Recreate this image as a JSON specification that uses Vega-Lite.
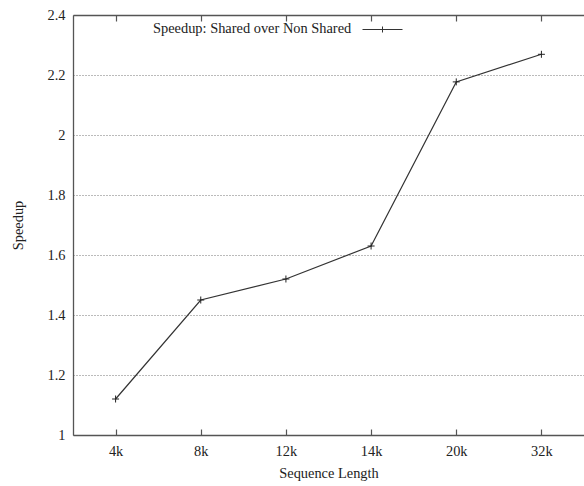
{
  "$schema": "https://vega.github.io/schema/vega-lite/v6.json",
  "width": 511,
  "height": 420,
  "autosize": {"type": "none"},
  "padding": {"left": 73, "top": 15, "right": 0, "bottom": 51},
  "background": "white",
  "config": {
    "view": {"stroke": null},
    "font": "Liberation Serif",
    "axis": {
      "labelFont": "Liberation Serif",
      "titleFont": "Liberation Serif",
      "labelFontSize": 14.4,
      "titleFontSize": 14.4,
      "titleFontWeight": "normal",
      "labelColor": "#222",
      "titleColor": "#222",
      "domainColor": "#555",
      "domainWidth": 1.3
    }
  },
  "data": {
    "values": [
      {"len": "4k", "speedup": 1.12, "series": "Speedup: Shared over Non Shared"},
      {"len": "8k", "speedup": 1.45, "series": "Speedup: Shared over Non Shared"},
      {"len": "12k", "speedup": 1.52, "series": "Speedup: Shared over Non Shared"},
      {"len": "14k", "speedup": 1.63, "series": "Speedup: Shared over Non Shared"},
      {"len": "20k", "speedup": 2.177, "series": "Speedup: Shared over Non Shared"},
      {"len": "32k", "speedup": 2.269, "series": "Speedup: Shared over Non Shared"}
    ]
  },
  "layer": [
    {
      "mark": {"type": "line", "strokeWidth": 1.2},
      "encoding": {
        "x": {
          "field": "len", "type": "ordinal", "sort": null,
          "scale": {"type": "point", "padding": 0.5},
          "axis": {"orient": "top", "labels": false, "title": null, "ticks": false, "grid": true, "gridDash": [6, 2000], "gridColor": "#555", "gridWidth": 1.2}
        },
        "y": {
          "field": "speedup", "type": "quantitative",
          "scale": {"domain": [1, 2.4], "nice": false, "zero": false},
          "axis": {
            "orient": "left",
            "values": [1, 1.2, 1.4, 1.6, 1.8, 2, 2.2, 2.4],
            "format": "~g",
            "ticks": false,
            "labelPadding": 8,
            "grid": true,
            "gridDash": [1, 2],
            "gridColor": "#777",
            "gridWidth": 1,
            "title": "Speedup",
            "titlePadding": 22
          }
        },
        "color": {
          "field": "series", "type": "nominal",
          "scale": {"range": ["#333"]},
          "legend": {
            "orient": "none",
            "legendX": 80,
            "legendY": -6,
            "title": "Speedup: Shared over Non Shared",
            "titleLimit": 500,
            "titleOrient": "left",
            "titleAnchor": "middle",
            "titleBaseline": "top",
            "titleFont": "Liberation Serif",
            "titleFontSize": 14.4,
            "titleFontWeight": "normal",
            "titleColor": "#222",
            "titlePadding": 10,
            "labelExpr": "''",
            "symbolType": "M-1,0H1M0,-0.15V0.15",
            "symbolSize": 1600,
            "symbolStrokeWidth": 1,
            "padding": 0
          }
        }
      }
    },
    {
      "mark": {"type": "point", "shape": "M-1,0H1M0,-1V1", "size": 49, "filled": false, "color": "#222", "strokeWidth": 1, "opacity": 1},
      "encoding": {
        "x": {
          "field": "len", "type": "ordinal", "sort": null,
          "axis": {"orient": "bottom", "labelAngle": 0, "ticks": false, "labelPadding": 9, "title": "Sequence Length", "titlePadding": 9, "grid": true, "gridDash": [6, 2000], "gridColor": "#555", "gridWidth": 1.2}
        },
        "y": {"field": "speedup", "type": "quantitative", "axis": null}
      }
    }
  ],
  "resolve": {"axis": {"x": "independent", "y": "independent"}}
}
